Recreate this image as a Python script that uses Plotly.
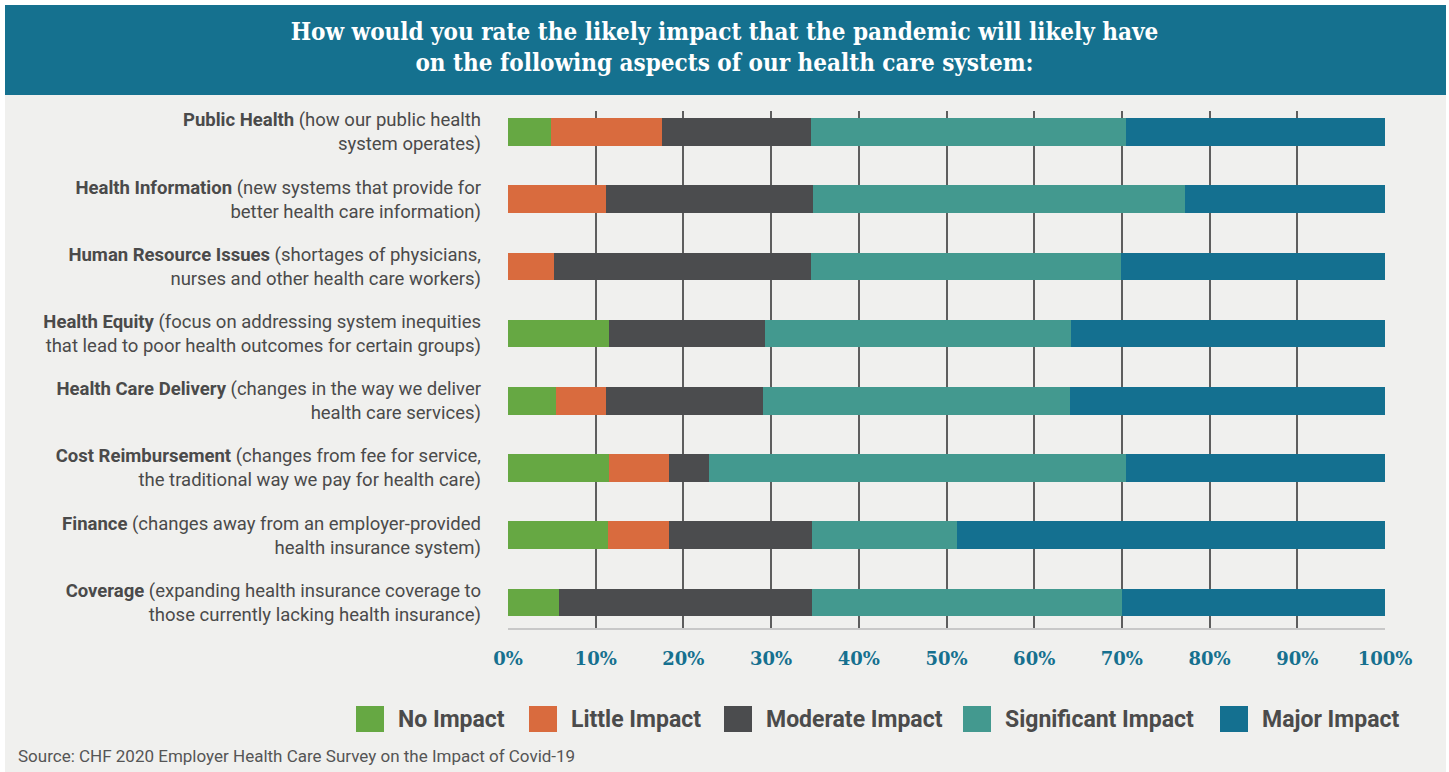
import plotly.graph_objects as go

# survey aspects (top to bottom) and their descriptions
aspects = ["Public Health", "Health Information", "Human Resource Issues", "Health Equity",
           "Health Care Delivery", "Cost Reimbursement", "Finance", "Coverage"]
descriptions = [
    ("(how our public health", "system operates)"),
    ("(new systems that provide for", "better health care information)"),
    ("(shortages of physicians,", "nurses and other health care workers)"),
    ("(focus on addressing system inequities", "that lead to poor health outcomes for certain groups)"),
    ("(changes in the way we deliver", "health care services)"),
    ("(changes from fee for service,", "the traditional way we pay for health care)"),
    ("(changes away from an employer-provided", "health insurance system)"),
    ("(expanding health insurance coverage to", "those currently lacking health insurance)"),
]

series_names = ["No Impact", "Little Impact", "Moderate Impact", "Significant Impact", "Major Impact"]
no_impact = [4.9, 0, 0, 11.5, 5.5, 11.5, 11.4, 5.8]
little_impact = [12.7, 11.2, 5.2, 0, 5.7, 6.9, 7.0, 0]
moderate_impact = [17.0, 23.6, 29.3, 17.8, 17.9, 4.5, 16.3, 28.9]
significant_impact = [35.9, 42.4, 35.4, 34.9, 35.0, 47.6, 16.5, 35.3]
major_impact = [29.5, 22.8, 30.1, 35.8, 35.9, 29.5, 48.8, 30.0]
series_values = [no_impact, little_impact, moderate_impact, significant_impact, major_impact]
colors = ["#66A843", "#D96B3E", "#4B4C4E", "#43998F", "#147090"]

x_ticks = list(range(0, 101, 10))

W, H = 1449, 772
L, R, T, B = 508, 64, 111, 144
PW, PH = W - L - R, H - T - B


def px_x(p):
    return (p - L) / PW


def px_y(p):
    return (H - B - p) / PH


labels = [f"<b>{a}</b> {d1}<br>{d2}" for a, (d1, d2) in zip(aspects, descriptions)]

fig = go.Figure()
for name, vals, col in zip(series_names, series_values, colors):
    fig.add_trace(go.Bar(
        y=labels, x=vals, name=name, orientation="h",
        marker=dict(color=col, line=dict(width=0)),
        showlegend=False,
        hovertemplate=name + ": %{x:.1f}%<extra></extra>",
    ))

shapes = [
    # grey panel and title band
    dict(type="rect", xref="paper", yref="paper", layer="below",
         x0=px_x(5), x1=px_x(1446), y0=px_y(95), y1=px_y(H),
         fillcolor="#F0F0EE", line_width=0),
    dict(type="rect", xref="paper", yref="paper", layer="below",
         x0=px_x(5), x1=px_x(1446), y0=px_y(5), y1=px_y(95),
         fillcolor="#15718F", line_width=0),
]

annotations = []
# hand-made legend with big squares
legend_left = [356, 529, 724, 963, 1220]
for name, col, lx in zip(series_names, colors, legend_left):
    shapes.append(dict(type="rect", xref="paper", yref="paper",
                       x0=px_x(lx), x1=px_x(lx + 28), y0=px_y(732), y1=px_y(706),
                       fillcolor=col, line_width=0))
    annotations.append(dict(xref="paper", yref="paper", x=px_x(lx + 40), y=px_y(719),
                            xanchor="left", yanchor="middle", showarrow=False,
                            text=name, font=dict(family="Roboto", size=23, color="#4B4B4B", weight="bold")))

annotations.append(dict(xref="paper", yref="paper", x=px_x(16), y=px_y(756),
                        xanchor="left", yanchor="middle", showarrow=False,
                        text="Source: CHF 2020 Employer Health Care Survey on the Impact of Covid-19",
                        font=dict(family="Roboto", size=17, color="#555555")))

fig.update_layout(
    width=W, height=H,
    margin=dict(l=L, r=R, t=T, b=B),
    paper_bgcolor="white", plot_bgcolor="rgba(0,0,0,0)",
    barmode="stack", bargap=0.59,
    title=dict(text="How would you rate the likely impact that the pandemic will likely have<br>on the following aspects of our health care system:",
               x=0.5, xref="container", xanchor="center", y=1 - 39.5 / H, yref="container", yanchor="middle",
               font=dict(family="DejaVu Serif Condensed, DejaVu Serif", size=24, color="white", weight="bold")),
    xaxis=dict(range=[0, 100], tickvals=x_ticks, ticktext=[f"{v}%" for v in x_ticks],
               showgrid=True, gridcolor="#5E5E5E", gridwidth=2, zeroline=False,
               showline=True, linecolor="#C8C8C8", linewidth=2,
               ticks="", ticklabelstandoff=13,
               tickfont=dict(family="DejaVu Serif", size=18, color="#16708F", weight="bold")),
    yaxis=dict(range=[7.38, -0.31], showgrid=False, zeroline=False, showline=False,
               ticks="", ticklabelstandoff=26,
               tickfont=dict(family="Roboto", size=18.5, color="#4A4A4A")),
    shapes=shapes, annotations=annotations,
    font=dict(family="Roboto"),
)

fig.write_html("out.html", config={"displayModeBar": False},
               post_script="document.body.style.margin='0';")
